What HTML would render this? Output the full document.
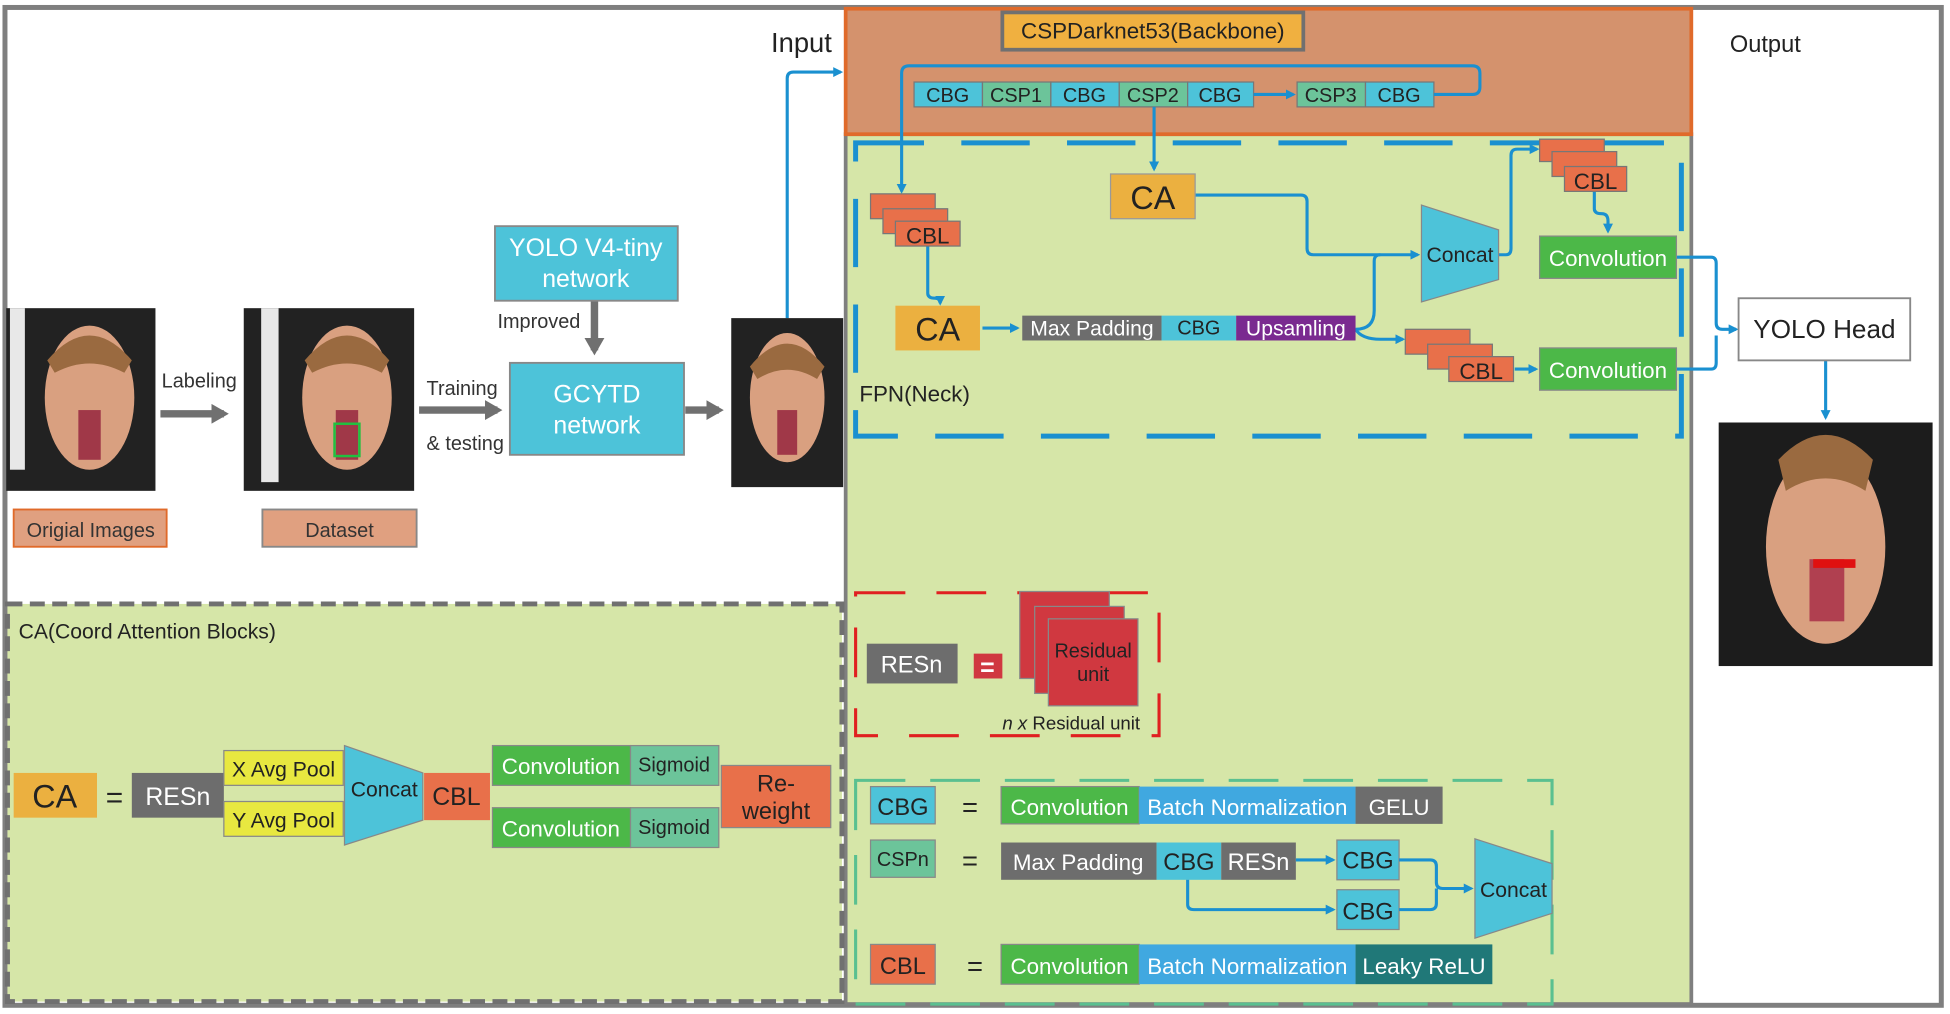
<!DOCTYPE html>
<html><head><meta charset="utf-8"><style>
html,body{margin:0;padding:0;background:#fff;}
svg{display:block;}
text{font-family:"Liberation Sans",sans-serif;}
</style></head><body>
<svg width="1950" height="1014" viewBox="0 0 1568 816" preserveAspectRatio="none" xmlns="http://www.w3.org/2000/svg">
<defs>
<marker id="ab" markerWidth="8" markerHeight="8" refX="6" refY="4" orient="auto" markerUnits="userSpaceOnUse"><path d="M0,0 L8,4 L0,8 z" fill="#1a90d0"/></marker>
<marker id="ag" markerWidth="14" markerHeight="16" refX="10" refY="8" orient="auto" markerUnits="userSpaceOnUse"><path d="M0,0 L14,8 L0,16 z" fill="#707070"/></marker>
</defs>
<rect width="1568" height="816" fill="#fff"/>
<!-- outer frame -->
<rect x="4" y="6" width="1557" height="803" fill="none" stroke="#7f7f7f" stroke-width="4"/>
<!-- green main -->
<rect x="680" y="108" width="680" height="700" fill="#d6e6a8" stroke="#7f7f7f" stroke-width="3"/>
<!-- backbone -->
<rect x="680" y="7" width="680" height="101" fill="#d4926d" stroke="#e06a2a" stroke-width="3"/>
<rect x="806" y="10" width="242" height="30" fill="#f0b040" stroke="#707070" stroke-width="3"/>
<text x="927" y="31" font-size="18" text-anchor="middle" fill="#222">CSPDarknet53(Backbone)</text>
<g font-size="16" text-anchor="middle" fill="#222" stroke-width="1">
<rect x="735" y="66" width="55" height="20" fill="#4dc3d9" stroke="#777"/><text x="762" y="82">CBG</text>
<rect x="790" y="66" width="55" height="20" fill="#6cc49a" stroke="#777"/><text x="817" y="82">CSP1</text>
<rect x="845" y="66" width="55" height="20" fill="#4dc3d9" stroke="#777"/><text x="872" y="82">CBG</text>
<rect x="900" y="66" width="55" height="20" fill="#6cc49a" stroke="#777"/><text x="927" y="82">CSP2</text>
<rect x="955" y="66" width="53" height="20" fill="#4dc3d9" stroke="#777"/><text x="981" y="82">CBG</text>
<rect x="1043" y="66" width="55" height="20" fill="#6cc49a" stroke="#777"/><text x="1070" y="82">CSP3</text>
<rect x="1098" y="66" width="55" height="20" fill="#4dc3d9" stroke="#777"/><text x="1125" y="82">CBG</text>
</g>
<g fill="none" stroke="#1a90d0" stroke-width="2.5">
<line x1="1008" y1="76" x2="1040" y2="76" marker-end="url(#ab)"/>
<path d="M1153,76 H1184 Q1190,76 1190,70 V59 Q1190,53 1184,53 H731 Q725,53 725,59 V154" marker-end="url(#ab)"/>
<path d="M928,86 V136" marker-end="url(#ab)"/>
<path d="M746,198 V236 Q746,240 752,240 Q756,240 756,244" marker-end="url(#ab)"/>
<path d="M961,157 H1046 Q1051,157 1051,162 V200 Q1051,205 1056,205 H1140" marker-end="url(#ab)"/>
<path d="M1090,265 Q1105,265 1105,250 V210 Q1105,205 1110,205"/>
<path d="M1090,265 Q1095,273 1110,273 H1128" marker-end="url(#ab)"/>
<path d="M790,264 H818" marker-end="url(#ab)"/>
<path d="M1205,205 H1211 Q1215,205 1215,200 V125 Q1215,120 1220,120 H1236" marker-end="url(#ab)"/>
<path d="M1282,154 V168 Q1282,172 1288,172 Q1293,172 1293,178 V186" marker-end="url(#ab)"/>
<path d="M1218,297 H1235" marker-end="url(#ab)"/>
<path d="M1348,207 H1376 Q1380,207 1380,212 V260 Q1380,265 1385,265 H1396" marker-end="url(#ab)"/>
<path d="M1348,297 H1376 Q1380,297 1380,292 V270"/>
<path d="M1468,290 V336" marker-end="url(#ab)"/>
<path d="M633,256 V63 Q633,58 638,58 H676" marker-end="url(#ab)"/>
</g>
<!-- FPN dashed -->
<rect x="688" y="115" width="664" height="236" fill="none" stroke="#1a90d0" stroke-width="4" stroke-dasharray="55,30"/>
<text x="691" y="323" font-size="18" fill="#222">FPN(Neck)</text>
<!-- CA boxes -->
<rect x="893" y="140" width="68" height="36" fill="#ebb040" stroke="#999"/>
<text x="927" y="168" font-size="26" text-anchor="middle" fill="#222">CA</text>
<rect x="720" y="246" width="68" height="36" fill="#ebb040"/>
<text x="754" y="274" font-size="26" text-anchor="middle" fill="#222">CA</text>
<!-- CBL stacks -->
<g fill="#e8704a" stroke="#777" font-size="18" fill-opacity="1">
<rect x="700" y="156" width="52" height="20"/><rect x="710" y="168" width="52" height="20"/><rect x="720" y="178" width="52" height="20"/>
<rect x="1238" y="112" width="52" height="18"/><rect x="1248" y="122" width="52" height="20"/><rect x="1258" y="134" width="50" height="20"/>
<rect x="1130" y="265" width="52" height="20"/><rect x="1148" y="277" width="52" height="20"/><rect x="1165" y="287" width="52" height="20"/>
</g>
<g font-size="18" fill="#222" text-anchor="middle">
<text x="746" y="196">CBL</text><text x="1283" y="152">CBL</text><text x="1191" y="305">CBL</text>
</g>
<!-- Max padding row -->
<rect x="822" y="254" width="112" height="20" fill="#6d6d6d"/><text x="878" y="270" font-size="17" text-anchor="middle" fill="#fff">Max Padding</text>
<rect x="934" y="254" width="60" height="20" fill="#4dc3d9"/><text x="964" y="269" font-size="16" text-anchor="middle" fill="#222">CBG</text>
<rect x="994" y="254" width="96" height="20" fill="#7a2a90"/><text x="1042" y="270" font-size="17" text-anchor="middle" fill="#fff">Upsamling</text>
<!-- Concat -->
<polygon points="1143,165 1205,185 1205,225 1143,243" fill="#4dc3d9" stroke="#888"/>
<text x="1174" y="211" font-size="17" text-anchor="middle" fill="#222">Concat</text>
<rect x="1238" y="190" width="110" height="34" fill="#4cb848" stroke="#888"/><text x="1293" y="214" font-size="18" text-anchor="middle" fill="#fff">Convolution</text>
<rect x="1238" y="280" width="110" height="34" fill="#4cb848" stroke="#888"/><text x="1293" y="304" font-size="18" text-anchor="middle" fill="#fff">Convolution</text>
<rect x="1398" y="240" width="138" height="50" fill="#fff" stroke="#888" stroke-width="1.5"/><text x="1467" y="272" font-size="21" text-anchor="middle" fill="#222">YOLO Head</text>
<text x="1391" y="42" font-size="19" fill="#222">Output</text>
<text x="620" y="42" font-size="22" fill="#222">Input</text>
<!-- output image -->
<rect x="1382" y="340" width="172" height="196" fill="#1c1c1c"/>
<ellipse cx="1468" cy="440" rx="48" ry="78" fill="#d9a080"/>
<path d="M1430,370 Q1468,330 1506,370 L1500,395 Q1468,375 1436,395 z" fill="#9a6a40"/>
<rect x="1455" y="450" width="28" height="50" fill="#b04050"/>
<rect x="1458" y="450" width="34" height="7" fill="#e01010"/>
<!-- left images -->
<rect x="5" y="248" width="120" height="147" fill="#222"/>
<rect x="8" y="248" width="12" height="130" fill="#e8e8e8"/>
<ellipse cx="72" cy="320" rx="36" ry="58" fill="#d9a080"/>
<path d="M38,290 Q72,250 106,290 L100,300 Q72,285 44,300z" fill="#9a6a40"/>
<rect x="63" y="330" width="18" height="40" fill="#a03848"/>
<rect x="196" y="248" width="137" height="147" fill="#222"/>
<rect x="210" y="248" width="14" height="140" fill="#e8e8e8"/>
<ellipse cx="279" cy="320" rx="36" ry="58" fill="#d9a080"/>
<path d="M245,290 Q279,250 313,290 L307,300 Q279,285 251,300z" fill="#9a6a40"/>
<rect x="270" y="330" width="18" height="40" fill="#a03848"/>
<rect x="269" y="341" width="20" height="26" fill="none" stroke="#20c040" stroke-width="2"/>
<rect x="588" y="256" width="90" height="136" fill="#222"/>
<ellipse cx="633" cy="320" rx="30" ry="52" fill="#d9a080"/>
<path d="M603,295 Q633,258 663,295 L657,305 Q633,290 609,305z" fill="#9a6a40"/>
<rect x="625" y="330" width="16" height="36" fill="#a03848"/>
<rect x="11" y="410" width="123" height="30" fill="#e0a080" stroke="#e06a2a" stroke-width="1.5"/><text x="73" y="432" font-size="16" text-anchor="middle" fill="#333">Origial Images</text>
<rect x="211" y="410" width="124" height="30" fill="#e0a080" stroke="#888" stroke-width="1.5"/><text x="273" y="432" font-size="16" text-anchor="middle" fill="#333">Dataset</text>
<g stroke="#707070" stroke-width="6" fill="none">
<line x1="129" y1="333" x2="180" y2="333" marker-end="url(#ag)"/>
<line x1="337" y1="330" x2="400" y2="330" marker-end="url(#ag)"/>
<line x1="551" y1="330" x2="578" y2="330" marker-end="url(#ag)"/>
<line x1="478" y1="242" x2="478" y2="282" marker-end="url(#ag)"/>
</g>
<text x="130" y="312" font-size="16" fill="#333">Labeling</text>
<text x="343" y="318" font-size="16" fill="#333">Training</text>
<text x="343" y="362" font-size="16" fill="#333">&amp; testing</text>
<text x="400" y="264" font-size="16" fill="#333">Improved</text>
<rect x="398" y="182" width="147" height="60" fill="#4dc3d9" stroke="#888" stroke-width="1.5"/>
<text x="471" y="206" font-size="20" text-anchor="middle" fill="#fff">YOLO V4-tiny</text><text x="471" y="231" font-size="20" text-anchor="middle" fill="#fff">network</text>
<rect x="410" y="292" width="140" height="74" fill="#4dc3d9" stroke="#888" stroke-width="1.5"/>
<text x="480" y="324" font-size="20" text-anchor="middle" fill="#fff">GCYTD</text><text x="480" y="349" font-size="20" text-anchor="middle" fill="#fff">network</text>
<!-- CA panel -->
<rect x="6" y="486" width="671" height="320" fill="#d6e6a8" stroke="#707070" stroke-width="4" stroke-dasharray="12,6"/>
<text x="15" y="514" font-size="17" fill="#222">CA(Coord Attention Blocks)</text>
<rect x="11" y="622" width="67" height="36" fill="#ebb040"/><text x="44" y="650" font-size="26" text-anchor="middle" fill="#222">CA</text>
<text x="92" y="650" font-size="24" text-anchor="middle" fill="#222">=</text>
<rect x="106" y="622" width="74" height="36" fill="#6d6d6d"/><text x="143" y="648" font-size="20" text-anchor="middle" fill="#fff">RESn</text>
<rect x="180" y="604" width="96" height="28" fill="#e8e840" stroke="#888"/><text x="228" y="625" font-size="17" text-anchor="middle" fill="#222">X Avg Pool</text>
<rect x="180" y="645" width="96" height="28" fill="#e8e840" stroke="#888"/><text x="228" y="666" font-size="17" text-anchor="middle" fill="#222">Y Avg Pool</text>
<polygon points="277,600 340,622 340,660 277,680" fill="#4dc3d9" stroke="#888"/><text x="309" y="641" font-size="17" text-anchor="middle" fill="#222">Concat</text>
<rect x="341" y="622" width="53" height="38" fill="#e8704a"/><text x="367" y="648" font-size="20" text-anchor="middle" fill="#222">CBL</text>
<rect x="396" y="600" width="111" height="32" fill="#4cb848" stroke="#888"/><text x="451" y="623" font-size="18" text-anchor="middle" fill="#fff">Convolution</text>
<rect x="507" y="600" width="71" height="32" fill="#6cc49a" stroke="#888"/><text x="542" y="621" font-size="16" text-anchor="middle" fill="#222">Sigmoid</text>
<rect x="396" y="650" width="111" height="32" fill="#4cb848" stroke="#888"/><text x="451" y="673" font-size="18" text-anchor="middle" fill="#fff">Convolution</text>
<rect x="507" y="650" width="71" height="32" fill="#6cc49a" stroke="#888"/><text x="542" y="671" font-size="16" text-anchor="middle" fill="#222">Sigmoid</text>
<rect x="580" y="616" width="88" height="50" fill="#e8704a" stroke="#888"/><text x="624" y="637" font-size="19" text-anchor="middle" fill="#222">Re-</text><text x="624" y="659" font-size="19" text-anchor="middle" fill="#222">weight</text>
<!-- RESn legend -->
<rect x="688" y="477" width="244" height="115" fill="none" stroke="#e02020" stroke-width="2.5" stroke-dasharray="40,25"/>
<rect x="697" y="518" width="73" height="32" fill="#6d6d6d"/><text x="733" y="541" font-size="19" text-anchor="middle" fill="#fff">RESn</text>
<rect x="783" y="526" width="23" height="20" fill="#d03840"/><text x="794" y="544" font-size="20" text-anchor="middle" fill="#fff" font-weight="bold">=</text>
<rect x="820" y="476" width="72" height="70" fill="#d03840" stroke="#888"/>
<rect x="832" y="488" width="72" height="70" fill="#d03840" stroke="#888"/>
<rect x="843" y="498" width="72" height="70" fill="#d03840" stroke="#888"/>
<text x="879" y="529" font-size="16" text-anchor="middle" fill="#222">Residual</text><text x="879" y="548" font-size="16" text-anchor="middle" fill="#222">unit</text>
<text x="806" y="587" font-size="15" fill="#222"><tspan font-style="italic">n x</tspan> Residual unit</text>
<!-- CBG legend -->
<rect x="688" y="628" width="560" height="180" fill="none" stroke="#5ac090" stroke-width="2.5" stroke-dasharray="40,20"/>
<rect x="700" y="633" width="52" height="30" fill="#4dc3d9" stroke="#888"/><text x="726" y="656" font-size="19" text-anchor="middle" fill="#222">CBG</text>
<text x="780" y="657" font-size="22" text-anchor="middle" fill="#222">=</text>
<rect x="805" y="633" width="111" height="30" fill="#4cb848" stroke="#888"/><text x="860" y="656" font-size="18" text-anchor="middle" fill="#fff">Convolution</text>
<rect x="916" y="633" width="174" height="30" fill="#40a8e0"/><text x="1003" y="656" font-size="18" text-anchor="middle" fill="#fff">Batch Normalization</text>
<rect x="1090" y="633" width="70" height="30" fill="#6d6d6d"/><text x="1125" y="656" font-size="18" text-anchor="middle" fill="#fff">GELU</text>
<rect x="700" y="676" width="52" height="30" fill="#6cc49a" stroke="#888"/><text x="726" y="697" font-size="16" text-anchor="middle" fill="#222">CSPn</text>
<text x="780" y="700" font-size="22" text-anchor="middle" fill="#222">=</text>
<rect x="805" y="678" width="125" height="30" fill="#6d6d6d"/><text x="867" y="700" font-size="18" text-anchor="middle" fill="#fff">Max Padding</text>
<rect x="930" y="678" width="52" height="30" fill="#4dc3d9"/><text x="956" y="700" font-size="19" text-anchor="middle" fill="#222">CBG</text>
<rect x="982" y="678" width="60" height="30" fill="#6d6d6d"/><text x="1012" y="700" font-size="19" text-anchor="middle" fill="#fff">RESn</text>
<rect x="1075" y="676" width="50" height="32" fill="#4dc3d9" stroke="#888"/><text x="1100" y="699" font-size="19" text-anchor="middle" fill="#222">CBG</text>
<rect x="1075" y="716" width="50" height="32" fill="#4dc3d9" stroke="#888"/><text x="1100" y="740" font-size="19" text-anchor="middle" fill="#222">CBG</text>
<polygon points="1186,675 1248,695 1248,735 1186,755" fill="#4dc3d9" stroke="#888"/><text x="1217" y="722" font-size="17" text-anchor="middle" fill="#222">Concat</text>
<g fill="none" stroke="#1a90d0" stroke-width="2.5">
<path d="M1042,692 H1072" marker-end="url(#ab)"/>
<path d="M955,708 V728 Q955,732 960,732 H1072" marker-end="url(#ab)"/>
<path d="M1125,692 H1150 Q1155,692 1155,697 V710 Q1155,715 1160,715 H1183" marker-end="url(#ab)"/>
<path d="M1125,732 H1150 Q1155,732 1155,727 V715"/>
</g>
<rect x="700" y="760" width="52" height="32" fill="#e8704a" stroke="#888"/><text x="726" y="784" font-size="19" text-anchor="middle" fill="#222">CBL</text>
<text x="784" y="785" font-size="22" text-anchor="middle" fill="#222">=</text>
<rect x="805" y="760" width="111" height="32" fill="#4cb848" stroke="#888"/><text x="860" y="784" font-size="18" text-anchor="middle" fill="#fff">Convolution</text>
<rect x="916" y="760" width="174" height="32" fill="#40a8e0"/><text x="1003" y="784" font-size="18" text-anchor="middle" fill="#fff">Batch Normalization</text>
<rect x="1090" y="760" width="110" height="32" fill="#207878"/><text x="1145" y="784" font-size="18" text-anchor="middle" fill="#fff">Leaky ReLU</text>
</svg>
</body></html>
